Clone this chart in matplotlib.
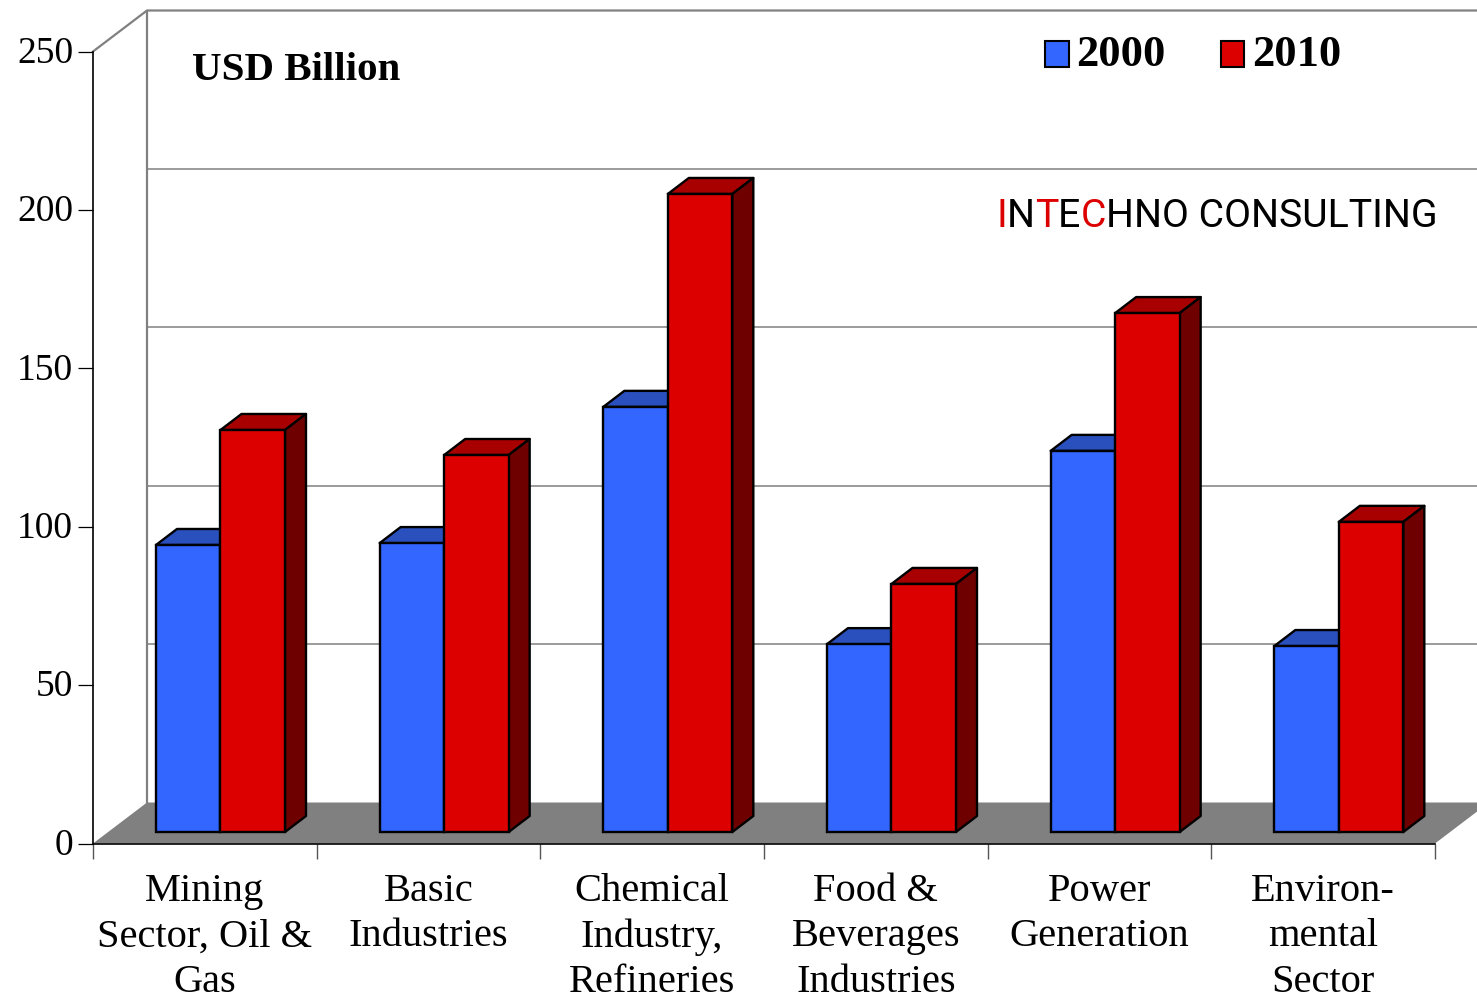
import matplotlib
matplotlib.use('Agg')
import matplotlib.pyplot as plt
from matplotlib.patches import Patch, Polygon
from matplotlib.transforms import ScaledTranslation

categories = ['Mining\nSector, Oil &\nGas', 'Basic\nIndustries', 'Chemical\nIndustry,\nRefineries',
              'Food &\nBeverages\nIndustries', 'Power\nGeneration', 'Environ-\nmental\nSector']
years = ['2000', '2010']
values_2000 = [90.6, 91.2, 134.2, 59.3, 120.3, 58.7]
values_2010 = [126.9, 119.0, 201.4, 78.3, 163.8, 97.9]
y_ticks = [0, 50, 100, 150, 200, 250]

BLUE = ('#3366FF', '#2A50BE')
RED = ('#DD0000', '#A80000')
RED_SIDE = '#6E0000'
GRAY = '#808080'

# size of one category and one value unit on the canvas
cat_px = 223.67
val_px = 3.168

# depth of the wall and of the bars, in data units
wall_dx, wall_dy = 54 / cat_px, 41 / val_px
bar_dx, bar_dy = 21 / cat_px, 16 / val_px
bar_base = 11.5 / val_px
bar_left = 63 / cat_px
bar_w = 64.5 / cat_px

plt.rcParams['font.family'] = ['Liberation Serif', 'DejaVu Serif']

fig = plt.figure(figsize=(14.77, 9.99), dpi=100)
ax = fig.add_axes([93 / 1477, (999 - 843.5) / 999, (1435 - 93) / 1477, (843.5 - 51.5) / 999])
ax.set_xlim(0, 6)
ax.set_ylim(0, 250)

# floor and back wall
ax.add_patch(Polygon([(0, 0), (wall_dx, wall_dy), (6 + wall_dx, wall_dy), (6, 0)],
                     facecolor=GRAY, edgecolor='none', clip_on=False, zorder=1))
right = 6.4
for v in y_ticks[1:-1]:
    ax.plot([wall_dx, right], [v + wall_dy] * 2, color=GRAY, lw=1.1, clip_on=False, zorder=1)
ax.plot([0, wall_dx, right], [250, 250 + wall_dy, 250 + wall_dy], color=GRAY, lw=1.6, clip_on=False, zorder=1)
ax.plot([wall_dx, wall_dx], [wall_dy, 250 + wall_dy], color=GRAY, lw=1.6, clip_on=False, zorder=1)


def draw_bar(x, value, colors, z):
    top = bar_base + value
    ax.bar(x, value, width=bar_w, bottom=bar_base, align='edge', color=colors[0],
           edgecolor='black', linewidth=1.7, zorder=z + 2)
    ax.add_patch(Polygon([(x, top), (x + bar_dx, top + bar_dy), (x + bar_w + bar_dx, top + bar_dy), (x + bar_w, top)],
                         facecolor=colors[1], edgecolor='black', lw=1.7, joinstyle='round', zorder=z))
    ax.add_patch(Polygon([(x + bar_w, bar_base), (x + bar_w + bar_dx, bar_base + bar_dy),
                          (x + bar_w + bar_dx, top + bar_dy), (x + bar_w, top)],
                         facecolor=RED_SIDE, edgecolor='black', lw=1.7, joinstyle='round', zorder=z + 1))


for i in range(len(categories)):
    draw_bar(i + bar_left, values_2000[i], BLUE, 3)
    draw_bar(i + bar_left + bar_w, values_2010[i], RED, 6)

# axes and tick labels
for side in ['top', 'right']:
    ax.spines[side].set_visible(False)
ax.patch.set_alpha(0)
ax.spines['left'].set_linewidth(1.2)
ax.spines['bottom'].set_linewidth(1.2)
ax.spines['left'].set_zorder(2)
ax.spines['bottom'].set_zorder(2)

ax.set_yticks(y_ticks)
ax.tick_params(axis='y', length=10.8, width=0.9, labelsize=27, pad=3.5)
for lab in ax.get_yticklabels():
    lab.set_transform(lab.get_transform() + ScaledTranslation(0, 2 / 100, fig.dpi_scale_trans))
ax.set_xticks(range(7))
ax.set_xticklabels([])
ax.tick_params(axis='x', which='major', length=10.5, width=1.0, color='#555555')
ax.set_xticks([i + 0.5 for i in range(6)], minor=True)
ax.set_xticklabels(categories, minor=True, fontsize=29.2, linespacing=1.29, va='top')
ax.tick_params(axis='x', which='minor', length=0, pad=21.5)

fig.text(192 / 1477, 1 - 80 / 999, 'USD Billion', fontsize=29.5, fontweight='bold', va='baseline')

leg = fig.legend(handles=[Patch(facecolor=BLUE[0], edgecolor='black', lw=1.5),
                          Patch(facecolor=RED[0], edgecolor='black', lw=1.5)],
                 labels=years, ncol=2, frameon=False, loc='upper left', bbox_to_anchor=(1045 / 1477, 1 - 35 / 999),
                 borderaxespad=0, borderpad=0, prop={'size': 32, 'weight': 'bold'},
                 handlelength=0.53, handleheight=0.53, handletextpad=0.18, columnspacing=1.23)
for p in leg.get_patches():
    p.set_y(p.get_y() - 2.5)

# company name, some letters in red
logo_parts = [('I', RED[0]), ('N', 'black'), ('T', RED[0]), ('E', 'black'), ('C', RED[0]), ('HNO CONSULTING', 'black')]
renderer = fig.canvas.get_renderer()
logo_font = {'family': ['Roboto', 'DejaVu Sans'], 'fontsize': 28.3}


def text_w(s):
    t = fig.text(0, 0, s, **logo_font)
    w = t.get_window_extent(renderer).width
    t.remove()
    return w


prefix = ''
for part, col in logo_parts:
    x_px = 996 + text_w(prefix + 'H') - text_w('H') if prefix else 996
    fig.text(x_px / 1477, 1 - 227 / 999, part, color=col, va='baseline', **logo_font)
    prefix += part

fig.savefig('out.png', dpi=100)
